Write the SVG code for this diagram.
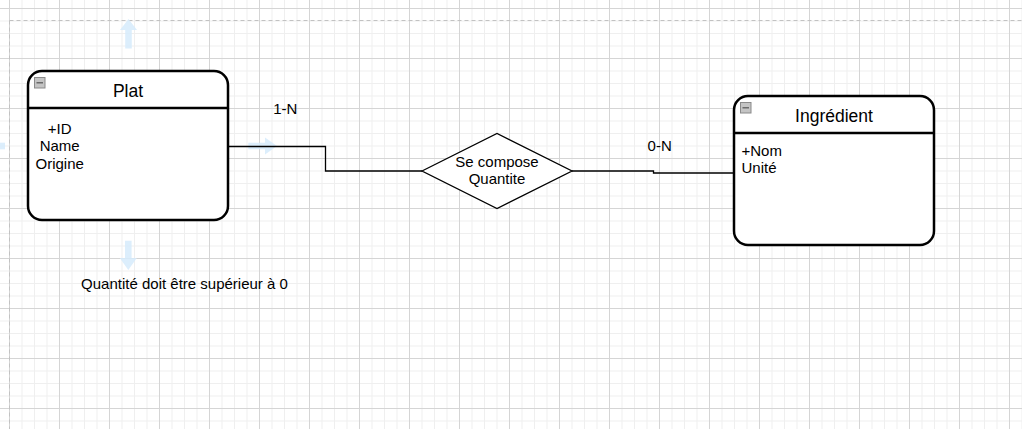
<svg xmlns="http://www.w3.org/2000/svg" width="1022" height="429" viewBox="0 0 1022 429">
<style>
text{font-family:"Liberation Sans",Arial,sans-serif;fill:#000}
.t15{font-size:15px}
.title{font-size:17.5px}
.box{fill:#fff;stroke:#000;stroke-width:2.5}
.div{stroke:#000;stroke-width:2.5}
.icon{fill:#c4c4c4;stroke:#8a8a8a;stroke-width:1}
.iconm{stroke:#555;stroke-width:1.2}
.conn{fill:none;stroke:#000;stroke-width:1.3}
.hover{fill:#d6ebfb;opacity:0.85}
</style>
<defs>
<pattern id="grid" patternUnits="userSpaceOnUse" x="9" y="8" width="50" height="50">
<g stroke="#efefef" stroke-width="1">
<line x1="13" y1="0" x2="13" y2="50"/>
<line x1="25.5" y1="0" x2="25.5" y2="50"/>
<line x1="38" y1="0" x2="38" y2="50"/>
<line x1="0" y1="13" x2="50" y2="13"/>
<line x1="0" y1="25.5" x2="50" y2="25.5"/>
<line x1="0" y1="38" x2="50" y2="38"/>
</g>
<g stroke="#d5d5d5" stroke-width="1">
<line x1="0.5" y1="0" x2="0.5" y2="50"/>
<line x1="0" y1="0.5" x2="50" y2="0.5"/>
</g>
</pattern>
</defs>
<rect x="0" y="0" width="1022" height="429" fill="#fff"/>
<rect x="0" y="0" width="1022" height="429" fill="url(#grid)"/>
<g stroke="#c2c2c2" stroke-width="1" stroke-dasharray="4 3" fill="none">
<line x1="9.5" y1="20.5" x2="9.5" y2="429"/>
<line x1="9.5" y1="20.5" x2="1022" y2="20.5"/>
</g>

<g id="hover-arrows">
<path class="hover" d="M128.5,19 L137,30 L131.8,30 L131.8,48.5 L125.2,48.5 L125.2,30 L120,30 Z"/>
<path class="hover" d="M128.3,270 L136.8,258 L131.6,258 L131.6,240.7 L125,240.7 L125,258 L119.8,258 Z"/>
<path class="hover" d="M277,146 L265,137.5 L265,142.7 L248.3,142.7 L248.3,149.3 L265,149.3 L265,154.5 Z"/>
<rect class="hover" x="0" y="142.7" width="5" height="6.6"/>
</g>

<g id="connectors">
<polyline class="conn" points="228,146.5 325.5,146.5 325.5,171 422,171"/>
<polyline class="conn" points="572,171 653.5,171 653.5,173 734,173"/>
<text class="t15" x="285.3" y="114" text-anchor="middle">1-N</text>
<text class="t15" x="659.7" y="151" text-anchor="middle">0-N</text>
</g>

<g id="plat">
<rect class="box" x="28" y="71" width="200" height="149" rx="14" ry="14"/>
<line class="div" x1="28" y1="108" x2="228" y2="108"/>
<rect class="icon" x="34.5" y="77.5" width="10.5" height="10.5"/>
<line class="iconm" x1="36.5" y1="82.8" x2="43" y2="82.8"/>
<text class="title" x="128" y="97" text-anchor="middle">Plat</text>
<text class="t15" x="59.7" y="133.5" text-anchor="middle">+ID</text>
<text class="t15" x="59.7" y="151" text-anchor="middle">Name</text>
<text class="t15" x="59.7" y="168.5" text-anchor="middle">Origine</text>
</g>

<g id="ingredient">
<rect class="box" x="734" y="96" width="200" height="149" rx="14" ry="14"/>
<line class="div" x1="734" y1="133" x2="934" y2="133"/>
<rect class="icon" x="740.5" y="102.5" width="10.5" height="10.5"/>
<line class="iconm" x1="742.5" y1="107.8" x2="749" y2="107.8"/>
<text class="title" x="834" y="122.3" text-anchor="middle">Ingrédient</text>
<text class="t15" x="741.5" y="155.8">+Nom</text>
<text class="t15" x="741.5" y="173">Unité</text>
</g>

<g id="se-compose">
<polygon points="422,171 497,133.5 572,171 497,208.5" fill="#fff" stroke="#000" stroke-width="1.3"/>
<text class="t15" x="497" y="166.5" text-anchor="middle">Se compose</text>
<text class="t15" x="497" y="184.3" text-anchor="middle">Quantite</text>
</g>

<g id="note">
<text class="t15" x="184.5" y="289" text-anchor="middle">Quantité doit être supérieur à 0</text>
</g>
</svg>
